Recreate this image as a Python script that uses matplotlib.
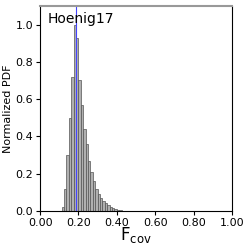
import matplotlib
matplotlib.use("Agg")
import matplotlib.pyplot as plt
import numpy as np

plt.rcParams['mathtext.default'] = 'regular'

# histogram bins (left edges) and normalized heights
BIN_WIDTH = 0.0125
bin_left = [0.1125, 0.125, 0.1375, 0.15, 0.1625, 0.175, 0.1875, 0.2, 0.2125,
            0.225, 0.2375, 0.25, 0.2625, 0.275, 0.2875, 0.3, 0.3125, 0.325,
            0.3375, 0.35, 0.3625, 0.375, 0.3875, 0.4, 0.4125]
pdf = [0.02, 0.12, 0.30, 0.50, 0.72, 1.00, 0.93, 0.70, 0.57,
       0.44, 0.36, 0.27, 0.21, 0.16, 0.12, 0.09, 0.07, 0.055,
       0.04, 0.03, 0.02, 0.014, 0.009, 0.005, 0.003]
best_fit = 0.185
label = "Hoenig17"

fig = plt.figure(figsize=(2.49, 2.49), dpi=100)
ax = fig.add_axes([0.161, 0.153, 0.771, 0.823])

ax.bar(bin_left, pdf, width=BIN_WIDTH, align='edge', color='#b0b0b0',
       edgecolor='#555555', linewidth=0.5)
ax.axvline(best_fit, color='#4444ff', linewidth=0.8)

ax.set_xlim(0, 1)
ax.set_ylim(0, 1.1)
ax.set_xticks(np.arange(0, 1.01, 0.2))
ax.set_xticklabels([f"{v:.2f}" for v in np.arange(0, 1.01, 0.2)])
ax.set_yticks(np.arange(0, 1.01, 0.2))
ax.set_yticklabels([f"{v:.1f}" for v in np.arange(0, 1.01, 0.2)])
ax.tick_params(labelsize=8, length=3, width=0.8, pad=2)

ax.spines['top'].set_color('#999999')
ax.spines['top'].set_linewidth(1.5)

ax.set_ylabel('Normalized PDF', fontsize=8, labelpad=2)
ax.text(0.04, 0.97, label, transform=ax.transAxes, fontsize=10,
        ha='left', va='top')
# x label placed in figure coords so the subscript stays inside the canvas
fig.text(0.546, 0.015, r'$F_{cov}$', fontsize=12, ha='center', va='bottom')

fig.savefig('out.png', dpi=100)
